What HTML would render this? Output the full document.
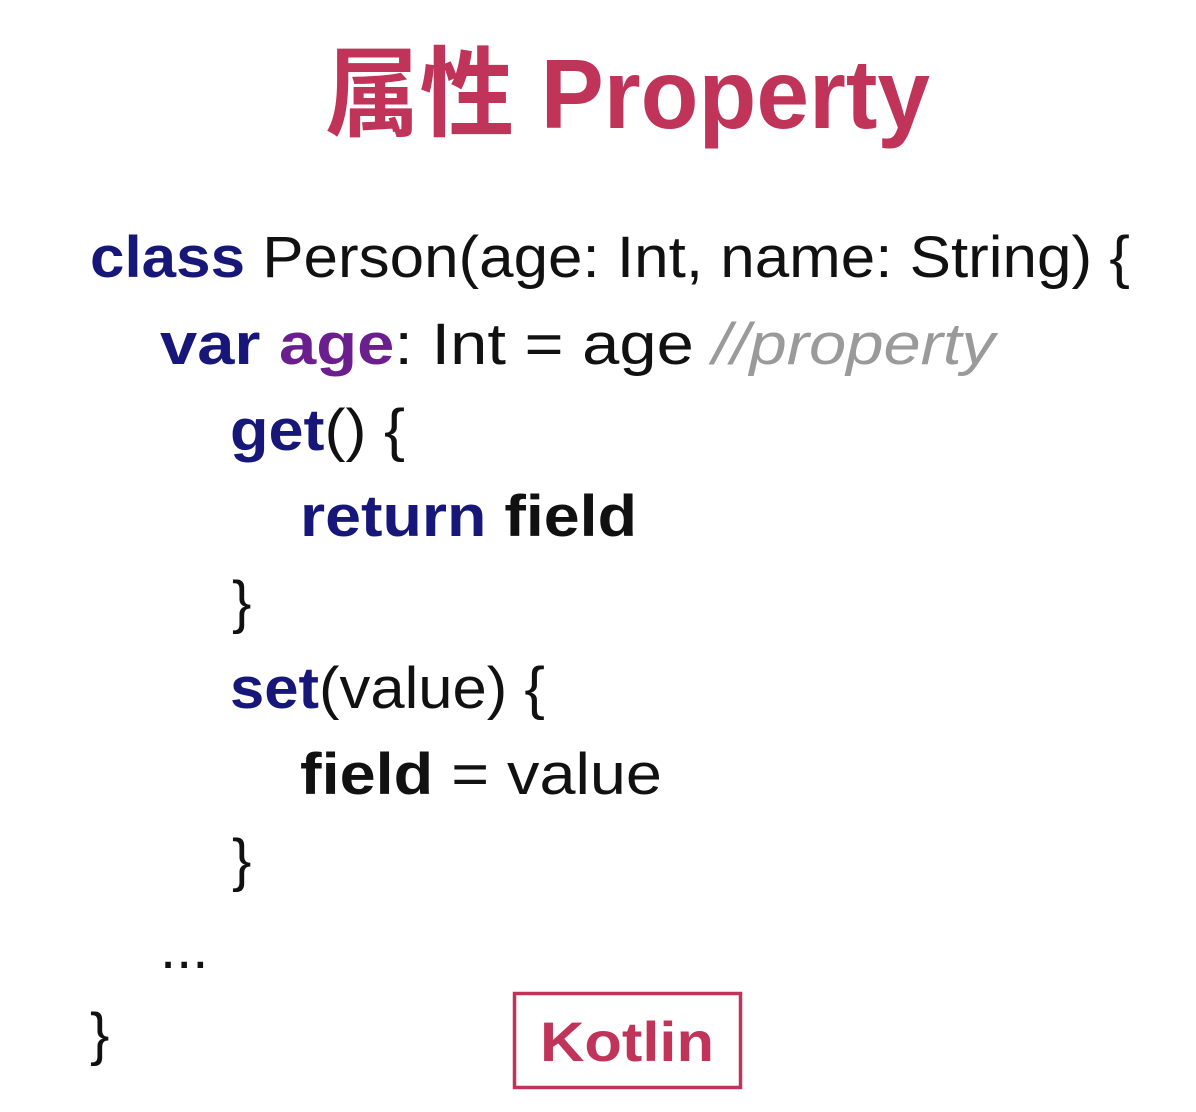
<!DOCTYPE html>
<html><head><meta charset="utf-8"><style>
html,body{margin:0;padding:0;background:#fff;width:1196px;height:1112px;overflow:hidden}
svg text{font-family:"Liberation Sans","Noto Sans CJK SC",sans-serif}
.k{fill:#17177a;font-weight:bold}
.p{fill:#6b1f8f;font-weight:bold}
.b{font-weight:bold}
.c{fill:#9a9a9a;font-style:italic}
</style></head><body>
<svg width="1196" height="1112" viewBox="0 0 1196 1112" xmlns="http://www.w3.org/2000/svg">
<text x="325" y="128" font-size="98" font-weight="bold" fill="#c0345a" textLength="605" lengthAdjust="spacingAndGlyphs">属性 Property</text>
<g font-size="58" fill="#111">
<text x="90" y="277" textLength="1040" lengthAdjust="spacingAndGlyphs"><tspan class="k">class</tspan> Person(age: Int, name: String) {</text>
<text x="160" y="364" textLength="835" lengthAdjust="spacingAndGlyphs"><tspan class="k">var</tspan> <tspan class="p">age</tspan>: Int = age <tspan class="c">//property</tspan></text>
<text x="230" y="450" textLength="175" lengthAdjust="spacingAndGlyphs"><tspan class="k">get</tspan>() {</text>
<text x="300" y="536" textLength="337" lengthAdjust="spacingAndGlyphs"><tspan class="k">return</tspan> <tspan class="b">field</tspan></text>
<text x="232" y="622">}</text>
<text x="230" y="708" textLength="315" lengthAdjust="spacingAndGlyphs"><tspan class="k">set</tspan>(value) {</text>
<text x="300" y="794" textLength="362" lengthAdjust="spacingAndGlyphs"><tspan class="b">field</tspan> = value</text>
<text x="232" y="880">}</text>
<text x="160" y="968">...</text>
<text x="90" y="1054">}</text>
</g>
<rect x="514.5" y="993.5" width="226" height="94" fill="none" stroke="#c0345a" stroke-width="3.5"/>
<text x="627" y="1061" text-anchor="middle" font-size="56" font-weight="bold" fill="#c0345a" textLength="174" lengthAdjust="spacingAndGlyphs">Kotlin</text>
</svg>
</body></html>
